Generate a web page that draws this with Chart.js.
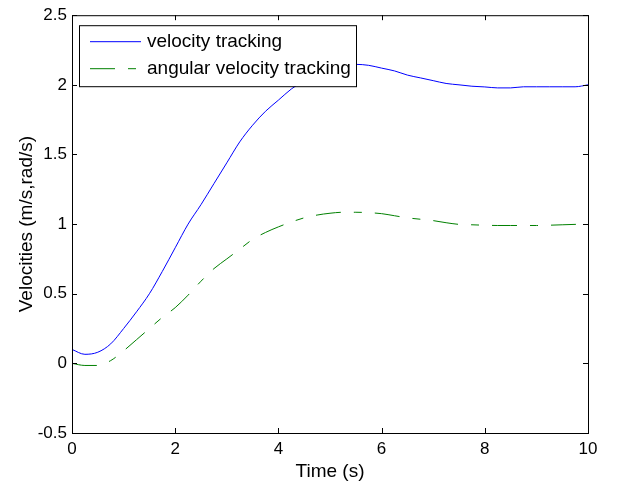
<!DOCTYPE html>
<html>
<head>
<meta charset="utf-8">
<script src="https://cdn.jsdelivr.net/npm/chart.js@4/dist/chart.umd.min.js"></script>
<style>
  html, body { margin: 0; padding: 0; background: #fff; }
  #wrap { width: 619px; height: 488px; }
</style>
</head>
<body>
<div id="wrap"><canvas id="c"></canvas></div>
<script>
const timeValues = [0, 0.25, 0.5, 0.75, 1, 1.25, 1.5, 1.75, 2, 2.25, 2.5, 2.75, 3, 3.25, 3.5, 3.75, 4, 4.25, 4.5, 4.75,
  5, 5.25, 5.5, 5.75, 6, 6.25, 6.5, 6.75, 7, 7.25, 7.5, 7.75, 8, 8.25, 8.5, 8.75, 9, 9.25, 9.5, 9.75, 10];
const velocityValues = [0.10, 0.065, 0.08, 0.14, 0.25, 0.37, 0.50, 0.66, 0.83, 1.00, 1.14, 1.29, 1.44, 1.59, 1.71, 1.81, 1.89, 1.97, 2.03, 2.08,
  2.11, 2.135, 2.147, 2.14, 2.12, 2.10, 2.07, 2.05, 2.03, 2.01, 2.00, 1.99, 1.985, 1.978, 1.978, 1.986, 1.986, 1.986, 1.986, 1.986, 2.00];
const angularValues = [0.0, -0.015, -0.015, 0.02, 0.09, 0.17, 0.25, 0.33, 0.40, 0.49, 0.59, 0.68, 0.75, 0.82, 0.89, 0.94, 0.98, 1.015, 1.045, 1.065,
  1.078, 1.085, 1.085, 1.082, 1.075, 1.06, 1.045, 1.035, 1.025, 1.01, 0.998, 0.995, 0.992, 0.99, 0.99, 0.99, 0.99, 0.992, 0.995, 0.998, 1.0];
const seriesLabels = ['velocity tracking', 'angular velocity tracking'];
const xTicks = [0, 2, 4, 6, 8, 10];
const yTicks = [-0.5, 0, 0.5, 1, 1.5, 2, 2.5];

const FONT = 'Arial, "Liberation Sans", sans-serif';

function toPoints(vals) {
  return timeValues.map((t, i) => ({ x: t, y: vals[i] }));
}

// box + inward ticks, matlab style
const framePlugin = {
  id: 'frame',
  afterDatasetsDraw(chart) {
    const { ctx, chartArea: a, scales } = chart;
    ctx.save();
    ctx.strokeStyle = '#000';
    ctx.lineWidth = 1;
    ctx.strokeRect(a.left + 0.5, a.top + 0.5, a.right - a.left, a.bottom - a.top);
    const len = 5;
    ctx.beginPath();
    xTicks.forEach(v => {
      const x = Math.round(scales.x.getPixelForValue(v)) + 0.5;
      ctx.moveTo(x, a.bottom); ctx.lineTo(x, a.bottom - len);
      ctx.moveTo(x, a.top); ctx.lineTo(x, a.top + len);
    });
    yTicks.forEach(v => {
      const y = Math.round(scales.y.getPixelForValue(v)) + 0.5;
      ctx.moveTo(a.left, y); ctx.lineTo(a.left + len, y);
      ctx.moveTo(a.right, y); ctx.lineTo(a.right - len, y);
    });
    ctx.stroke();

    // legend box
    const lx = a.left + 7, ly = a.top + 10, lw = 277, lh = 61;
    ctx.fillStyle = '#fff';
    ctx.fillRect(lx, ly, lw, lh);
    ctx.strokeRect(lx + 0.5, ly + 0.5, lw, lh);
    ctx.font = '19px ' + FONT;
    ctx.textBaseline = 'middle';
    chart.data.datasets.forEach((ds, i) => {
      const y = ly + 16 + i * 27;
      ctx.beginPath();
      ctx.strokeStyle = ds.borderColor;
      ctx.setLineDash(ds.borderDash || []);
      ctx.moveTo(lx + 11, y + 0.5);
      ctx.lineTo(lx + 62, y + 0.5);
      ctx.stroke();
      ctx.setLineDash([]);
      ctx.fillStyle = '#000';
      ctx.fillText(ds.label, lx + 68, y + 1);
    });
    ctx.restore();
  }
};

new Chart(document.getElementById('c'), {
  type: 'line',
  data: {
    datasets: [
      {
        label: seriesLabels[0],
        data: toPoints(velocityValues),
        borderColor: '#0000ff',
        borderWidth: 1,
        pointRadius: 0,
        cubicInterpolationMode: 'monotone'
      },
      {
        label: seriesLabels[1],
        data: toPoints(angularValues),
        borderColor: '#008000',
        borderWidth: 1,
        borderDash: [25, 13, 8, 13],
        pointRadius: 0,
        cubicInterpolationMode: 'monotone'
      }
    ]
  },
  options: {
    responsive: true,
    maintainAspectRatio: false,
    animation: false,
    layout: { padding: { top: 11, right: 31, left: 0, bottom: 0 } },
    plugins: { legend: { display: false }, tooltip: { enabled: false } },
    scales: {
      x: {
        type: 'linear',
        min: 0, max: 10,
        afterBuildTicks: s => { s.ticks = xTicks.map(v => ({ value: v })); },
        afterFit: s => { s.height = 55; },
        grid: { drawOnChartArea: false, drawTicks: false },
        border: { display: false },
        ticks: { color: '#000', font: { family: FONT, size: 17 }, padding: 6, maxRotation: 0, callback: v => String(v) },
        title: { display: true, text: 'Time (s)', color: '#000', font: { family: FONT, size: 19 }, padding: { top: 0, bottom: 5 } }
      },
      y: {
        min: -0.5, max: 2.5,
        afterBuildTicks: s => { s.ticks = yTicks.map(v => ({ value: v })); },
        afterFit: s => { s.width = 72; },
        grid: { drawOnChartArea: false, drawTicks: false },
        border: { display: false },
        ticks: { color: '#000', font: { family: FONT, size: 17 }, padding: 5, callback: v => String(v) },
        title: { display: true, text: 'Velocities (m/s,rad/s)', color: '#000', font: { family: FONT, size: 19 }, padding: { top: 15, bottom: 0 } }
      }
    }
  },
  plugins: [framePlugin]
});
</script>
</body>
</html>
